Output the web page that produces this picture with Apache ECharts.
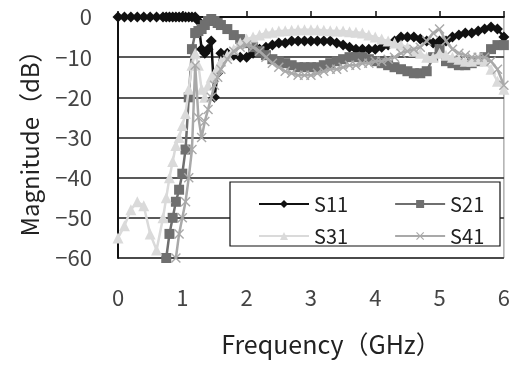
<!DOCTYPE html>
<html><head><meta charset="utf-8">
<script src="https://cdn.jsdelivr.net/npm/echarts@6/dist/echarts.min.js"></script>
<style>html,body{margin:0;padding:0;background:#fff}#c{width:513px;height:365px}</style>
</head><body><div id="c"></div>
<script>
const freq = [0,0.1,0.2,0.3,0.4,0.5,0.6,0.7,0.75,0.8,0.85,0.9,0.95,1.0,1.05,1.1,1.15,1.2,1.25,1.3,1.35,1.4,1.45,1.5,1.55,1.6,
  1.7,1.8,1.9,2.0,2.1,2.2,2.3,2.4,2.5,2.6,2.7,2.8,2.9,3.0,3.1,3.2,3.3,3.4,3.5,3.6,3.7,3.8,3.9,4.0,
  4.1,4.2,4.3,4.4,4.5,4.6,4.7,4.8,4.9,5.0,5.1,5.2,5.3,5.4,5.5,5.6,5.7,5.8,5.9,6.0];
const s11 = [0,0,0,0,0,0,0,0,0,0,0,0,0,0,0,0,0,0,-1,-8,-9,-8,-6,-20,-14,-9,
  -9,-9.5,-10,-10,-9,-8,-7.5,-7,-6.5,-6.5,-6,-6,-6,-6,-6,-6,-6,-6.5,-7,-7.5,-8,-8,-8,-8,
  -7.5,-7,-6,-5,-5,-5,-5.5,-6,-6.5,-6,-6,-5,-4.5,-4,-4,-3.5,-3,-2.5,-3,-5];
const s21 = [null,null,null,null,null,null,null,null,-60,-54,-50,-46,-43,-39,-33,-20,-8,-4,-3.5,-3,-2,-1,-0.5,-1,-1.5,-2,
  -3,-4.5,-5.5,-6.5,-7.5,-8.5,-9.5,-10.5,-11,-11.5,-12,-12.5,-12.5,-12.5,-12.5,-12,-11.5,-11,-10.5,-10,-10,-10,-10.5,-11,
  -11.5,-12,-12.5,-13,-13.5,-14,-14,-13.5,-10,-8,-11,-11.5,-12,-12,-11.5,-11,-10,-8,-7,-7];
const s31 = [-55,-52,-48,-46,-47,-54,-58,-50,-45,-40,-36,-32,-30,-27,-24,-18,-12,-9,-12,-18,-20,-17,-15,-14,-12.5,-11,
  -9.5,-8,-6.5,-5.5,-5,-4.5,-4,-3.8,-3.5,-3.4,-3.3,-3.2,-3.2,-3.2,-3.2,-3.3,-3.4,-3.5,-3.5,-3.7,-3.8,-4,-4.5,-5,
  -5.5,-6,-6.5,-7,-7.5,-8.5,-9,-10,-10,-9,-9.5,-10,-10.5,-11,-11,-10.5,-11,-13,-16,-18];
const s41 = [null,null,null,null,null,null,null,null,null,null,null,-60,-54,-50,-46,-40,-33,-12,-25,-30,-26,-23,-20,-17,-15,-13,
  -10.5,-8.5,-7.5,-7,-7.5,-8.5,-10,-11.5,-12.5,-13.5,-14,-14.5,-14.5,-14.5,-14,-13.5,-13,-13,-12.5,-12,-12,-11.5,-11.5,-11,
  -11,-10.5,-10,-9,-8.5,-8,-7.5,-6,-4,-3,-6,-8,-9,-9.5,-10,-10,-10,-11,-13,-17];
const names = ['S11','S21','S31','S41'];
const xTicks = [0,1,2,3,4,5,6];
const yTicks = [0,-10,-20,-30,-40,-50,-60];

const pair = v => freq.map((f,i)=>[f, v[i]]);
const FONT = "'Noto Sans CJK JP','Noto Sans',sans-serif";
const crossPath = 'path://M0,1L1,0L5,4L9,0L10,1L6,5L10,9L9,10L5,6L1,10L0,9L4,5Z';
const styles = [
  {color:'#111', symbol:'diamond', size:11},
  {color:'#6f6f6f', symbol:'rect', size:10},
  {color:'#dadada', symbol:'triangle', size:11},
  {color:'#a9a9a9', symbol:crossPath, size:10}
];
const datas = [s11,s21,s31,s41];
const series = names.map((n,k)=>({
  name:n, type:'line', data:pair(datas[k]), showSymbol:true,
  symbol:styles[k].symbol, symbolSize:styles[k].size,
  lineStyle:{color:styles[k].color, width:2.5},
  itemStyle:{color:styles[k].color},
  connectNulls:false, z:2+k, animation:false
}));
const chart = echarts.init(document.getElementById('c'));
chart.setOption({
  animation:false,
  grid:{left:118, right:5, top:17, bottom:107, show:true, borderColor:'#888', borderWidth:1},
  xAxis:{type:'value', min:0, max:6, interval:1,
    name:'Frequency（GHz）', nameLocation:'middle', nameGap:74,
    nameTextStyle:{fontSize:25, color:'#222', fontFamily:FONT, padding:[0,0,0,40]},
    axisLine:{lineStyle:{color:'#111', width:2}},
    axisTick:{inside:true, length:6, lineStyle:{color:'#111', width:1.5}},
    axisLabel:{margin:29, fontSize:22, color:'#444', fontFamily:FONT, formatter:v=>String(v)},
    splitLine:{show:false}},
  yAxis:{type:'value', min:-60, max:0, interval:10,
    name:'Magnitude（dB）', nameLocation:'middle', nameGap:76,
    nameTextStyle:{fontSize:24, color:'#222', fontFamily:FONT},
    axisLine:{show:true, lineStyle:{color:'#111', width:2}},
    axisTick:{show:false},
    axisLabel:{margin:26, fontSize:22, color:'#444', fontFamily:FONT, formatter:v=>String(v).replace('-','−')},
    splitLine:{show:true, lineStyle:{color:'#222', width:1.5}}},
  graphic:[{type:'rect', shape:{x:230, y:182, width:270, height:64}, style:{fill:'#fff', stroke:'#111', lineWidth:1.2}, z:10}],
  legend:[
    {data:['S11','S21'], left:253, top:189, itemWidth:50, itemHeight:10, itemGap:46, z:20,
     textStyle:{fontSize:20, color:'#222', fontFamily:FONT, width:40}},
    {data:['S31','S41'], left:253, top:221, itemWidth:50, itemHeight:10, itemGap:46, z:20,
     textStyle:{fontSize:20, color:'#222', fontFamily:FONT, width:40}}
  ],
  series:series
});
</script></body></html>
